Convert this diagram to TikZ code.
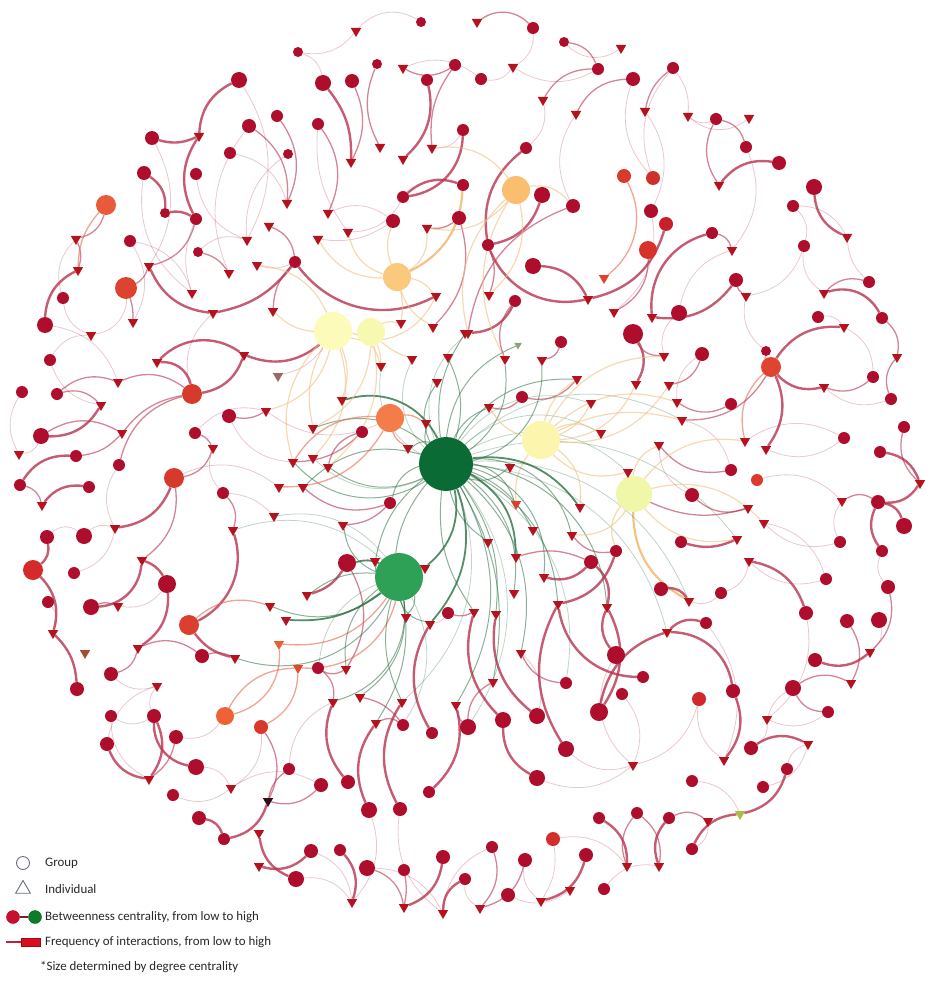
\documentclass[tikz,border=0pt]{standalone}
\usepackage{fontspec}
\setmainfont{Carlito}
\usetikzlibrary{shapes.geometric}
\definecolor{cred}{HTML}{AE0E2C}
\definecolor{tred}{HTML}{B3121E}
\definecolor{ered}{HTML}{B8334F}
\definecolor{hubg}{HTML}{0B6B35}
\definecolor{midg}{HTML}{2FA157}
\definecolor{egreen}{HTML}{2A7040}
\definecolor{eorange}{HTML}{E8674A}
\definecolor{eyel}{HTML}{F0C080}
\definecolor{legc}{HTML}{6A6F80}
\definecolor{cr1}{HTML}{D93A2E}\definecolor{cr2}{HTML}{D0302C}\definecolor{cr3}{HTML}{C8202A}
\definecolor{cr4}{HTML}{D8302B}\definecolor{cr5}{HTML}{DC4430}\definecolor{cr6}{HTML}{D63A2C}
\definecolor{cr8}{HTML}{DA4030}\definecolor{cr9}{HTML}{DE4430}\definecolor{cr10}{HTML}{DC3A2C}
\definecolor{cr11}{HTML}{D0282C}\definecolor{cr12}{HTML}{D42E2C}\definecolor{cr13}{HTML}{D42A2A}
\definecolor{cr14}{HTML}{D8382C}
\definecolor{co1}{HTML}{E85A3A}\definecolor{co2}{HTML}{F47C48}\definecolor{co3}{HTML}{EE6236}
\definecolor{cy1}{HTML}{FBC97E}\definecolor{cy2}{HTML}{FBBE6F}\definecolor{cy3}{HTML}{FCFBB9}
\definecolor{cy4}{HTML}{F7F9B0}\definecolor{cy5}{HTML}{FBF5AE}\definecolor{cy6}{HTML}{F1F7A8}
\definecolor{tdark}{HTML}{6B2A2A}\definecolor{torg}{HTML}{E0452C}\definecolor{tgrey}{HTML}{8FA07A}
\definecolor{tbrown}{HTML}{A0502E}\definecolor{torg2}{HTML}{E8602E}\definecolor{torg3}{HTML}{E04A2C}
\definecolor{tblack}{HTML}{301018}\definecolor{torg4}{HTML}{D9402A}\definecolor{tlime}{HTML}{A8C040}
\definecolor{lred}{HTML}{C8102E}\definecolor{lredd}{HTML}{9A0A20}\definecolor{lgreen}{HTML}{0E7A2A}
\definecolor{lgreend}{HTML}{0A5A20}\definecolor{ldash}{HTML}{7A2030}\definecolor{lrect}{HTML}{D8101E}
\definecolor{lrectd}{HTML}{A00A18}\definecolor{lline}{HTML}{C02040}
\pgfdeclarelayer{bg}\pgfsetlayers{bg,main}
\newcommand{\grp}[4]{\node[cir,minimum size=#4] (#1) at (#2,#3) {};}
\newcommand{\ind}[3]{\node[tri] (#1) at (#2,#3) {};}
\newcommand{\edg}[4]{\draw[#1] (#2) to[bend left=#4] (#3);}
\begin{document}
\begin{tikzpicture}[x=1pt,y=-1pt,
  cir/.style={circle,inner sep=0pt,fill=cred},
  tri/.style={regular polygon,regular polygon sides=3,shape border rotate=180,inner sep=0pt,minimum size=12,fill=tred},
  et/.style={draw=ered,draw opacity=0.28,line width=0.8},
  em/.style={draw=ered,draw opacity=0.6,line width=1.3},
  ek/.style={draw=ered,draw opacity=0.8,line width=2.4},
  eg/.style={draw=egreen,draw opacity=0.55,line width=1},
  egt/.style={draw=egreen,draw opacity=0.3,line width=0.8},
  egk/.style={draw=egreen,draw opacity=0.8,line width=1.8},
  eo/.style={draw=eorange,draw opacity=0.6,line width=1.3},
  ey/.style={draw=eyel,draw opacity=0.6,line width=1.2},
  eyk/.style={draw=eyel!80!orange,draw opacity=0.8,line width=2.2},
  lgt/.style={anchor=west,font=\fontsize{12.9}{15}\selectfont,inner sep=0pt,text=black!85}]
\useasboundingbox (0,0) rectangle (935,984);
% ---------- group nodes (circles)
\grp{a1}{421}{22}{10}\grp{a2}{298}{52}{10}\grp{a3}{533}{28}{12}\grp{a4}{564}{42}{10}
\grp{a5}{239}{80}{16}\grp{a6}{323}{83}{16}\grp{a7}{352}{81}{14}\grp{a8}{377}{64}{10}
\grp{a9}{427}{80}{12}\grp{a10}{455}{65}{12}\grp{a11}{481}{79}{12}\grp{a12}{598}{69}{12}
\grp{a13}{633}{79}{14}\grp{a14}{673}{68}{12}\grp{a15}{152}{138}{14}\grp{a16}{249}{126}{14}
\grp{a17}{277}{116}{12}\grp{a18}{318}{124}{12}\grp{a19}{463}{130}{12}\grp{a20}{144}{173}{14}
\grp{a21}{196}{174}{12}\grp{a22}{230}{153}{12}\grp{a23}{288}{154}{10}\grp{a24}{463}{185}{12}
\grp{a25}{403}{197}{12}\grp{a26}{165}{213}{10}\grp{a27}{196}{219}{12}\grp{a28}{393}{221}{14}
\grp{a29}{459}{218}{14}\grp{a30}{130}{241}{12}\grp{a31}{198}{252}{10}\grp{a32}{295}{262}{12}
\grp{a33}{63}{298}{12}\grp{a34}{45}{325}{16}\grp{a35}{50}{360}{12}\grp{a36}{22}{392}{12}
\grp{a37}{57}{394}{12}\grp{a38}{229}{416}{14}\grp{a39}{41}{436}{16}\grp{a40}{195}{433}{12}
\grp{a41}{362}{432}{12}\grp{a42}{76}{456}{12}\grp{a43}{119}{465}{12}\grp{a44}{20}{485}{12}
\grp{a45}{89}{487}{12}
\grp{b1}{716}{119}{12}\grp{b2}{746}{147}{12}\grp{b3}{779}{163}{14}\grp{b4}{526}{148}{12}
\grp{b5}{542}{195}{16}\grp{b6}{814}{187}{16}\grp{b7}{793}{206}{12}\grp{b8}{573}{206}{14}
\grp{b9}{651}{211}{14}\grp{b10}{712}{233}{12}\grp{b11}{488}{245}{12}\grp{b12}{804}{246}{12}
\grp{b13}{533}{266}{16}\grp{b14}{736}{280}{14}\grp{b15}{869}{282}{12}\grp{b16}{515}{301}{12}
\grp{b17}{679}{313}{16}\grp{b18}{818}{317}{12}\grp{b19}{882}{318}{12}\grp{b20}{633}{334}{20}
\grp{b21}{561}{342}{12}\grp{b22}{702}{354}{14}\grp{b23}{766}{351}{10}\grp{b24}{873}{377}{12}
\grp{b25}{891}{399}{12}\grp{b26}{522}{397}{12}\grp{b27}{731}{404}{12}\grp{b28}{904}{427}{12}
\grp{b29}{844}{438}{12}\grp{b30}{880}{452}{12}\grp{b31}{731}{470}{12}
\grp{d1}{223}{493}{12}\grp{d2}{47}{537}{14}\grp{d3}{84}{536}{16}\grp{d4}{74}{573}{12}
\grp{d5}{167}{584}{18}\grp{d6}{48}{602}{12}\grp{d7}{91}{607}{16}\grp{d8}{202}{656}{14}
\grp{d9}{111}{674}{14}\grp{d10}{77}{689}{14}\grp{d11}{111}{716}{12}\grp{d12}{154}{716}{14}
\grp{d13}{107}{744}{14}\grp{d14}{176}{737}{14}\grp{d15}{196}{767}{16}\grp{d16}{173}{795}{12}
\grp{d17}{289}{769}{12}\grp{d18}{321}{785}{14}\grp{d19}{348}{782}{14}\grp{d20}{369}{810}{16}
\grp{d21}{400}{809}{14}\grp{d22}{429}{792}{12}\grp{d23}{403}{725}{12}\grp{d24}{432}{733}{12}
\grp{d25}{468}{727}{16}\grp{d26}{318}{668}{12}\grp{d27}{347}{563}{18}\grp{d28}{390}{503}{12}
\grp{d29}{448}{613}{12}\grp{d30}{199}{818}{14}\grp{d31}{224}{839}{12}\grp{d32}{311}{851}{14}
\grp{d33}{340}{850}{12}\grp{d34}{367}{868}{16}\grp{d35}{404}{870}{12}\grp{d36}{443}{857}{14}
\grp{d37}{296}{879}{16}\grp{d38}{465}{879}{12}
\grp{e1}{692}{495}{14}\grp{e2}{878}{502}{14}\grp{e3}{904}{526}{16}\grp{e4}{840}{542}{12}
\grp{e5}{882}{551}{12}\grp{e6}{681}{542}{12}\grp{e7}{616}{551}{12}\grp{e8}{591}{562}{14}
\grp{e9}{661}{589}{14}\grp{e10}{721}{593}{12}\grp{e11}{826}{579}{12}\grp{e12}{806}{613}{14}
\grp{e13}{888}{587}{14}\grp{e14}{706}{623}{12}\grp{e15}{847}{621}{14}\grp{e16}{879}{620}{16}
\grp{e17}{815}{660}{14}\grp{e18}{616}{655}{18}\grp{e19}{643}{677}{12}\grp{e20}{622}{694}{12}
\grp{e21}{566}{683}{12}\grp{e22}{733}{691}{14}\grp{e23}{793}{688}{16}\grp{e24}{828}{712}{12}
\grp{e26}{503}{720}{16}\grp{e27}{537}{716}{16}\grp{e28}{599}{712}{18}
\grp{e29}{566}{749}{16}\grp{e30}{537}{778}{16}\grp{e31}{751}{748}{14}\grp{e32}{787}{769}{12}
\grp{e33}{763}{787}{12}\grp{e34}{692}{781}{12}\grp{e35}{599}{818}{12}\grp{e36}{637}{813}{12}
\grp{e37}{669}{818}{12}\grp{e38}{692}{849}{12}\grp{e39}{492}{847}{12}\grp{e40}{525}{860}{14}
\grp{e41}{586}{855}{14}\grp{e43}{508}{895}{14}\grp{e44}{604}{889}{12}
% coloured groups
\node[cir,fill=cr1,minimum size=14] (r1) at (624,176) {};
\node[cir,fill=cr2,minimum size=14] (r2) at (653,178) {};
\node[cir,fill=cr3,minimum size=14] (r3) at (666,224) {};
\node[cir,fill=cr4,minimum size=18] (r4) at (648,250) {};
\node[cir,fill=cr5,minimum size=22] (r5) at (126,288) {};
\node[cir,fill=cr6,minimum size=20] (r6) at (192,394) {};
\node[cir,fill=cr6,minimum size=20] (r7) at (174,478) {};
\node[cir,fill=cr8,minimum size=20] (r8) at (189,625) {};
\node[cir,fill=cr9,minimum size=20] (r9) at (771,367) {};
\node[cir,fill=cr10,minimum size=12] (r10) at (757,480) {};
\node[cir,fill=cr11,minimum size=14] (r11) at (699,699) {};
\node[cir,fill=cr12,minimum size=14] (r12) at (553,839) {};
\node[cir,fill=cr13,minimum size=20] (r13) at (33,570) {};
\node[cir,fill=cr14,minimum size=14] (r14) at (261,727) {};
\node[cir,fill=co1,minimum size=20] (o1) at (106,205) {};
\node[cir,fill=co2,minimum size=28] (o2) at (390,418) {};
\node[cir,fill=co3,minimum size=18] (o3) at (225,716) {};
\node[cir,fill=cy1,minimum size=28] (y1) at (397,277) {};
\node[cir,fill=cy2,minimum size=28] (y2) at (516,190) {};
\node[cir,fill=cy3,minimum size=38] (y3) at (333,331) {};
\node[cir,fill=cy4,minimum size=28] (y4) at (371,332) {};
\node[cir,fill=cy5,minimum size=38] (y5) at (541,440) {};
\node[cir,fill=cy6,minimum size=36] (y6) at (634,494) {};
\node[cir,fill=hubg,minimum size=54] (g1) at (446,464) {};
\node[cir,fill=midg,minimum size=48] (g2) at (399,577) {};
% ---------- individuals (triangles)
\ind{t1}{356}{31}\ind{t2}{403}{68}\ind{t3}{199}{136}\ind{t4}{380}{147}\ind{t5}{403}{159}
\ind{t6}{432}{148}\ind{t7}{351}{162}\ind{t8}{287}{203}\ind{t9}{328}{213}\ind{t10}{348}{232}
\ind{t11}{427}{228}\ind{t12}{76}{239}\ind{t13}{247}{240}\ind{t14}{269}{226}\ind{t15}{318}{239}
\ind{t16}{78}{270}\ind{t17}{149}{266}\ind{t18}{229}{273}\ind{t19}{257}{265}\ind{t20}{192}{293}
\ind{t21}{436}{296}\ind{t22}{133}{322}\ind{t23}{213}{313}\ind{t24}{273}{311}\ind{t25}{401}{323}
\ind{t26}{433}{327}\ind{t27}{465}{333}\ind{t28}{91}{335}\ind{t29}{244}{355}\ind{t30}{157}{362}
\ind{t31}{381}{366}\ind{t32}{412}{359}\ind{t33}{448}{357}\ind{t34}{118}{382}\ind{t35}{101}{405}
\ind{t36}{437}{382}\node[tri,fill=tdark,fill opacity=0.7] (t37) at (278,376) {};
\ind{t38}{342}{400}\ind{t39}{266}{411}\ind{t40}{122}{433}\ind{t41}{313}{428}\ind{t42}{426}{423}
\ind{t43}{213}{448}\ind{t44}{408}{448}\ind{t45}{19}{454}\ind{t46}{293}{462}\ind{t47}{313}{458}
\ind{t48}{328}{467}\ind{t49}{279}{487}\ind{t50}{303}{487}
\ind{u1}{477}{22}\ind{u2}{621}{48}\ind{u3}{513}{67}\ind{u4}{543}{100}\ind{u5}{576}{114}
\ind{u6}{645}{111}\ind{u7}{688}{116}\ind{u8}{749}{118}\ind{u9}{719}{185}\ind{u10}{847}{237}
\ind{u11}{732}{250}\node[tri,fill=torg] (u12) at (604,278) {};
\ind{u13}{489}{295}\ind{u14}{588}{299}\ind{u15}{746}{296}\ind{u16}{824}{293}\ind{u17}{614}{312}
\ind{u18}{652}{317}\ind{u19}{844}{327}\ind{u20}{468}{333}
\node[tri,fill=tgrey,minimum size=9] (u21) at (518,345) {};
\ind{u22}{505}{359}\ind{u23}{542}{360}\ind{u24}{664}{356}\ind{u25}{897}{357}\ind{u26}{577}{379}
\ind{u27}{636}{384}\ind{u28}{669}{385}\ind{u29}{824}{387}\ind{u30}{489}{407}\ind{u31}{591}{403}
\ind{u32}{677}{402}\ind{u33}{682}{420}\ind{u34}{745}{441}\ind{u35}{766}{449}\ind{u36}{601}{433}
\ind{u37}{659}{445}\ind{u38}{510}{467}\ind{u39}{628}{472}\ind{u40}{920}{483}
\ind{v1}{42}{505}\ind{v2}{115}{528}\ind{v3}{142}{560}\ind{v4}{233}{530}\ind{v5}{274}{516}
\ind{v6}{343}{525}\ind{v7}{375}{561}\ind{v8}{425}{568}\ind{v9}{118}{606}\ind{v10}{53}{633}
\node[tri,fill=tbrown] (v11) at (85,653) {};
\ind{v12}{138}{648}\ind{v13}{235}{658}\ind{v14}{270}{606}\ind{v15}{286}{620}
\node[tri,fill=torg2] (v16) at (279,644) {};
\ind{v17}{307}{595}\node[tri,fill=torg3] (v18) at (298,668) {};
\ind{v19}{346}{669}\ind{v20}{157}{686}\ind{v21}{333}{702}\ind{v22}{360}{697}\ind{v23}{376}{723}
\ind{v24}{402}{702}\ind{v25}{406}{617}\ind{v26}{430}{624}\ind{v27}{456}{705}\ind{v28}{149}{779}
\ind{v29}{231}{788}\node[tri,fill=tblack] (v30) at (268,801) {};
\ind{v31}{259}{833}\ind{v32}{259}{866}\ind{v33}{352}{902}\ind{v34}{404}{907}\ind{v35}{443}{913}
\node[tri,fill=torg4] (w1) at (516,504) {};
\ind{w2}{580}{507}\ind{w3}{533}{530}\ind{w4}{572}{535}\ind{w5}{488}{542}\ind{w6}{516}{557}
\ind{w7}{544}{577}\ind{w8}{514}{593}\ind{w9}{558}{604}\ind{w10}{607}{607}\ind{w11}{474}{612}
\ind{w12}{496}{614}\ind{w13}{748}{508}\ind{w14}{764}{523}\ind{w15}{737}{539}\ind{w16}{842}{501}
\ind{w17}{749}{561}\ind{w18}{689}{601}\ind{w19}{667}{632}\ind{w20}{521}{653}\ind{w21}{493}{682}
\ind{w22}{870}{652}\ind{w23}{851}{683}\ind{w24}{767}{719}\ind{w25}{724}{760}\ind{w26}{633}{765}
\ind{w27}{808}{744}\node[tri,fill=tlime] (w28) at (740,814) {};
\ind{w29}{708}{821}\ind{w30}{627}{866}\ind{w31}{659}{866}\ind{w32}{570}{890}\ind{w33}{541}{901}
\ind{w34}{480}{908}
% ---------- connectors
\begin{pgfonlayer}{bg}
% top
\edg{et}{a1}{t1}{-40}\edg{et}{a2}{t1}{-30}\edg{em}{a3}{u1}{-40}\edg{et}{a4}{u2}{-40}
\edg{et}{a11}{u3}{-30}\edg{em}{a12}{u4}{-30}\edg{em}{a13}{u5}{-30}\edg{em}{a14}{u6}{-20}
\edg{et}{a14}{u7}{20}\edg{et}{b1}{u7}{30}\edg{et}{u7}{u8}{-40}\edg{em}{b1}{u9}{-30}
\edg{ek}{b3}{u9}{-30}\edg{em}{b2}{b1}{-30}\edg{ek}{b6}{u10}{-30}\edg{et}{b7}{u10}{30}
\edg{et}{u10}{b15}{-20}\edg{em}{b15}{u16}{-30}\edg{ek}{u16}{b19}{40}\edg{et}{b7}{b12}{30}
\edg{ek}{b10}{u18}{-40}\edg{ek}{b14}{u18}{30}\edg{em}{b10}{u11}{30}\edg{et}{b12}{u15}{30}
\edg{em}{b14}{u15}{-20}\edg{et}{b18}{u19}{30}\edg{em}{b19}{u25}{30}\edg{em}{b24}{u29}{30}
\edg{ek}{r9}{u29}{-30}\edg{ek}{r9}{u35}{30}\edg{eo}{r9}{u34}{-30}\edg{em}{r9}{u33}{30}
\edg{eo}{r9}{b23}{20}\edg{ek}{r9}{u19}{30}\edg{em}{b25}{u25}{30}\edg{ek}{b30}{u40}{30}
\edg{em}{b28}{u40}{-30}\edg{et}{b29}{u34}{-30}\edg{em}{b27}{u32}{30}\edg{em}{b31}{u37}{30}
\edg{em}{b22}{u28}{30}\edg{ek}{b20}{u27}{30}\edg{em}{b20}{u24}{-30}\edg{em}{b21}{u23}{30}
\edg{em}{b26}{u30}{30}\edg{em}{b26}{u26}{-30}\edg{ek}{b16}{u20}{30}\edg{em}{b16}{u22}{-30}
\edg{ek}{b13}{u14}{30}\edg{em}{b11}{u13}{20}\edg{eo}{r1}{u12}{40}\edg{et}{r2}{a14}{30}
\edg{em}{r4}{u17}{30}\edg{ek}{r3}{u14}{30}\edg{ek}{b5}{b11}{30}\edg{ek}{b4}{b11}{-30}
\edg{ek}{b11}{u14}{-40}\edg{em}{b8}{u20}{-30}\edg{et}{b9}{u17}{30}\edg{et}{b17}{u24}{-30}
\edg{et}{a3}{u3}{30}\edg{et}{a13}{r2}{-30}
% upper left
\edg{em}{a8}{t4}{-25}\edg{em}{a10}{t2}{30}\edg{ek}{a9}{t5}{30}\edg{em}{a10}{t6}{-20}
\edg{ek}{a6}{t7}{20}\edg{em}{a7}{t7}{25}\edg{em}{a17}{t8}{30}\edg{em}{a16}{t8}{30}
\edg{em}{a18}{t9}{30}\edg{et}{a18}{t10}{-20}\edg{ek}{a19}{a25}{40}\edg{ek}{a24}{a25}{-30}
\edg{em}{a29}{t11}{20}\edg{em}{o1}{t12}{30}\edg{ek}{a34}{t16}{30}\edg{em}{t12}{t16}{20}
\edg{et}{a31}{t13}{30}\edg{em}{a32}{t14}{-30}\edg{et}{a28}{t15}{20}\edg{em}{r5}{t17}{-20}
\edg{em}{a27}{t17}{30}\edg{ek}{a5}{t3}{-30}\edg{ek}{a15}{t3}{-20}\edg{ek}{t3}{a27}{-30}
\edg{ek}{a20}{a26}{30}\edg{ek}{a26}{a27}{20}\edg{em}{a31}{t18}{20}\edg{et}{a32}{t19}{20}
\edg{et}{a30}{t20}{30}\edg{em}{r5}{t22}{10}\edg{ek}{a32}{t23}{20}\edg{ek}{t17}{t23}{-30}
\edg{em}{a32}{t24}{-20}\edg{em}{a29}{t26}{30}\edg{et}{r5}{t28}{40}\edg{ek}{y3}{t29}{30}
\edg{ek}{r6}{t29}{-30}\edg{ek}{t30}{r6}{40}\edg{em}{a37}{t34}{30}\edg{em}{r6}{t34}{-30}
\edg{em}{a37}{t35}{30}\edg{ek}{a39}{t35}{-30}\edg{em}{a38}{t39}{-20}\edg{em}{a39}{t40}{30}
\edg{em}{r6}{t40}{-20}\edg{em}{a40}{t43}{20}\edg{em}{r7}{t43}{-30}\edg{et}{a39}{t45}{30}
\edg{em}{a41}{t46}{20}\edg{ek}{a32}{t21}{-40}\edg{ek}{t30}{t29}{40}\edg{em}{a43}{r6}{30}
\edg{em}{a42}{t40}{-20}\edg{ek}{a44}{a42}{30}\edg{et}{a23}{t13}{-30}\edg{et}{a21}{t13}{-30}
\edg{et}{a22}{t8}{30}\edg{et}{a35}{t28}{30}\edg{et}{a36}{t45}{-30}\edg{et}{a33}{t12}{30}
\edg{em}{a4}{a12}{30}\edg{et}{a2}{a6}{30}
% bottom left
\edg{em}{a44}{v1}{30}\edg{ek}{a45}{v1}{-30}\edg{ek}{r7}{v2}{30}\edg{et}{d3}{v2}{30}
\edg{em}{r7}{v3}{30}\edg{ek}{d5}{v3}{-20}\edg{em}{d1}{v4}{30}\edg{ek}{r8}{v4}{-40}
\edg{et}{d1}{v5}{20}\edg{em}{d7}{v9}{20}\edg{et}{d5}{v9}{30}\edg{ek}{r13}{v10}{30}
\edg{ek}{d10}{v10}{-20}\edg{ek}{d5}{v12}{30}\edg{em}{d8}{v12}{-30}\edg{ek}{r8}{v13}{-20}
\edg{em}{d8}{v13}{20}\edg{eo}{r8}{v14}{30}\edg{ek}{d27}{v17}{20}\edg{eo}{r14}{v18}{-30}
\edg{eo}{o3}{v18}{30}\edg{em}{d27}{v19}{30}\edg{et}{d12}{v20}{30}\edg{em}{d26}{v21}{30}
\edg{em}{d23}{v23}{-30}\edg{et}{d29}{v26}{20}\edg{ek}{d12}{v28}{30}\edg{ek}{d13}{v28}{-30}
\edg{em}{d14}{v28}{20}\edg{et}{r14}{v29}{30}\edg{em}{r14}{v30}{30}\edg{em}{d17}{v30}{-20}
\edg{ek}{v30}{d31}{30}\edg{ek}{d30}{d31}{30}\edg{ek}{v31}{d37}{-30}\edg{ek}{d32}{v32}{30}
\edg{et}{d32}{v33}{30}\edg{et}{d37}{v33}{30}\edg{ek}{d33}{v33}{30}\edg{em}{d34}{v34}{30}
\edg{ek}{d36}{v34}{30}\edg{ek}{d38}{v35}{-30}\edg{em}{d35}{v34}{10}\edg{ek}{d12}{d15}{-40}
\edg{et}{d16}{v29}{-30}\edg{et}{d11}{d12}{-30}\edg{et}{d2}{d3}{40}\edg{et}{d4}{v2}{-30}
\edg{em}{d9}{v12}{-30}\edg{em}{v30}{d18}{-30}\edg{ek}{d19}{v21}{30}\edg{ek}{d20}{v23}{30}
\edg{ek}{d21}{v24}{30}\edg{ek}{d22}{v27}{-30}\edg{ek}{d24}{v26}{30}\edg{em}{d23}{v22}{-20}
\edg{em}{d25}{v27}{20}\edg{em}{d26}{v19}{-30}\edg{em}{d28}{v6}{20}\edg{em}{d29}{w11}{-20}
\edg{ek}{d7}{v3}{-40}\edg{et}{d6}{v10}{30}\edg{eo}{o3}{v16}{-40}\edg{et}{o3}{d14}{30}
\edg{ek}{r13}{d2}{-30}\edg{et}{d15}{v29}{30}
% bottom right
\edg{ey}{y5}{w1}{-20}\edg{em}{e7}{w4}{30}\edg{em}{e8}{w6}{-20}\edg{ek}{e8}{w7}{30}
\edg{ek}{e7}{w9}{30}\edg{ek}{e8}{w10}{30}\edg{em}{y6}{w13}{-20}\edg{et}{e4}{w14}{30}
\edg{ek}{e6}{w15}{-20}\edg{em}{e2}{w16}{-30}\edg{et}{r10}{w16}{30}\edg{et}{e11}{w17}{30}
\edg{ek}{e12}{w17}{-30}\edg{eyk}{y6}{w18}{-30}\edg{ek}{e9}{w18}{30}\edg{ek}{e14}{w19}{-30}
\edg{ek}{w19}{e22}{40}\edg{ek}{w19}{e28}{-30}\edg{em}{e21}{w20}{30}\edg{em}{d25}{w21}{30}
\edg{ek}{e17}{w22}{-30}\edg{em}{e15}{w23}{30}\edg{et}{e16}{w22}{30}\edg{em}{e23}{w23}{30}
\edg{et}{e24}{w24}{30}\edg{et}{e23}{w24}{-20}\edg{ek}{e22}{w25}{30}\edg{et}{r11}{w26}{30}
\edg{ek}{e31}{w27}{30}\edg{et}{e32}{w27}{30}\edg{ek}{e32}{w28}{30}\edg{et}{e34}{w28}{30}
\edg{ek}{e38}{w28}{30}\edg{em}{e37}{w29}{30}\edg{ek}{e35}{w30}{30}\edg{em}{e36}{w30}{-30}
\edg{em}{e36}{w31}{30}\edg{ek}{e37}{w31}{-30}\edg{et}{e44}{w31}{30}\edg{ek}{e41}{w33}{30}
\edg{et}{e43}{w32}{-30}\edg{em}{e40}{w34}{30}\edg{em}{e39}{w34}{30}\edg{et}{r12}{w33}{20}
\edg{ek}{e29}{w9}{30}\edg{ek}{e28}{w10}{-30}\edg{ek}{e18}{w10}{30}\edg{ek}{e19}{w9}{40}
\edg{ek}{e26}{w11}{30}\edg{ek}{e27}{w12}{30}\edg{ek}{e26}{e30}{-30}\edg{et}{e30}{w26}{-30}
\edg{em}{e1}{w13}{-30}\edg{ek}{e2}{e3}{30}\edg{ek}{e2}{e5}{-30}\edg{ek}{u40}{e2}{30}
\edg{et}{e4}{w16}{30}\edg{em}{e13}{w22}{30}\edg{et}{e10}{w18}{30}\edg{et}{d38}{w34}{-30}
\edg{et}{e33}{w27}{-30}\edg{et}{e20}{w26}{30}\edg{em}{e24}{e23}{30}
% extra faint links
\edg{et}{a5}{t13}{30}\edg{et}{a16}{t18}{-30}\edg{et}{a15}{t17}{30}\edg{et}{a20}{t20}{-30}
\edg{et}{a30}{t22}{30}\edg{et}{a33}{t28}{-30}\edg{et}{a34}{t34}{30}\edg{et}{a35}{t35}{-30}
\edg{et}{a40}{t39}{30}\edg{et}{a38}{t46}{-30}\edg{et}{r7}{t49}{30}\edg{et}{a43}{v2}{-30}
\edg{et}{d1}{t43}{30}\edg{et}{r6}{t23}{30}\edg{et}{a27}{t20}{-20}\edg{et}{a25}{t10}{30}
\edg{et}{a28}{t9}{-30}\edg{et}{a19}{t6}{30}\edg{et}{a11}{t2}{-30}\edg{et}{a12}{u3}{30}
\edg{et}{b4}{u4}{-30}\edg{et}{b8}{u5}{30}\edg{et}{b9}{u6}{-30}\edg{et}{b2}{u11}{30}
\edg{et}{b12}{u16}{-30}\edg{et}{b17}{u11}{30}\edg{et}{b22}{u32}{-30}\edg{et}{b23}{u15}{30}
\edg{et}{b24}{u19}{-30}\edg{et}{b25}{u29}{30}\edg{et}{b29}{u35}{30}\edg{et}{b31}{u33}{-30}
\edg{et}{e1}{u37}{30}\edg{et}{e11}{w14}{-30}\edg{et}{e13}{e5}{30}\edg{et}{e18}{w26}{-40}
\edg{et}{e27}{w20}{-30}\edg{et}{e29}{w26}{-30}\edg{et}{d18}{v29}{-30}\edg{et}{d17}{v21}{30}
\edg{et}{d9}{v20}{-30}\edg{et}{d13}{v20}{30}\edg{et}{d11}{v28}{-30}\edg{et}{d20}{v33}{30}
\edg{et}{d21}{v35}{-30}\edg{et}{d34}{v35}{30}\edg{et}{e39}{v35}{-30}\edg{et}{e40}{w33}{-30}
\edg{et}{r12}{w30}{30}\edg{et}{e38}{w29}{-30}\edg{et}{r11}{w25}{-30}\edg{et}{e31}{w24}{-30}
\edg{et}{e12}{w24}{30}\edg{et}{e10}{w17}{-30}\edg{et}{e14}{w25}{30}
\edg{em}{d28}{t50}{30}\edg{em}{a41}{t48}{-30}
% hubs
\edg{eg}{g1}{t27}{20}\edg{eg}{g1}{t33}{-20}\edg{eg}{g1}{t36}{30}\edg{eg}{g1}{t42}{20}
\edg{eg}{g1}{t44}{-30}\edg{eg}{g1}{t48}{30}\edg{eg}{g1}{t50}{-30}\edg{eg}{g1}{u21}{30}
\edg{eg}{g1}{u38}{-30}\edg{eg}{g1}{w10}{40}\edg{eg}{g1}{w9}{30}\edg{eg}{g1}{v25}{-30}
\edg{eg}{g1}{u30}{20}\edg{eg}{g1}{u26}{30}\edg{eg}{g1}{t46}{40}\edg{eg}{g1}{w20}{30}
\edg{eg}{g1}{w21}{20}\edg{eg}{g1}{w11}{-20}\edg{eg}{g1}{w1}{30}\edg{egk}{g1}{w2}{30}
\edg{eg}{g1}{w3}{20}\edg{eg}{g1}{w5}{-20}\edg{egk}{g1}{w6}{30}\edg{eg}{g1}{w7}{40}
\edg{eg}{g1}{w8}{30}\edg{eg}{g1}{w12}{20}\edg{eg}{g1}{v7}{-20}\edg{egk}{g1}{v8}{30}
\edg{eg}{g1}{v27}{30}\edg{egk}{g1}{t38}{-40}\edg{eg}{g1}{u23}{-40}\edg{eg}{g1}{w4}{40}
\edg{egk}{g1}{v26}{30}\edg{eg}{g1}{d28}{-30}\edg{eg}{g1}{t41}{-30}\edg{eg}{g1}{u22}{-30}
\edg{egt}{g1}{u31}{35}\edg{egt}{g1}{u36}{35}\edg{egt}{g1}{u33}{35}\edg{egt}{g1}{w15}{35}
\edg{egt}{g1}{w18}{35}\edg{egt}{g1}{w19}{35}\edg{egt}{g1}{d25}{35}\edg{egt}{g1}{t47}{35}
\edg{egt}{g1}{t32}{35}\edg{egt}{g1}{t31}{35}\edg{egt}{g1}{u20}{35}\edg{egt}{g1}{e21}{35}
\edg{egt}{g1}{u39}{35}\edg{egt}{g1}{v24}{35}
\edg{eg}{g2}{v6}{30}\edg{eg}{g2}{v7}{20}\edg{eg}{g2}{v14}{30}\edg{egk}{g2}{v15}{20}
\edg{eo}{g2}{v16}{30}\edg{eg}{g2}{v17}{-20}\edg{eo}{g2}{v18}{40}\edg{eg}{g2}{v19}{-30}
\edg{eg}{g2}{v22}{30}\edg{eg}{g2}{v23}{20}\edg{eg}{g2}{v24}{-20}\edg{eg}{g2}{v25}{30}
\edg{eg}{g2}{v26}{-30}\edg{egk}{g2}{d27}{-20}\edg{eg}{g2}{v13}{40}\edg{eg}{g2}{v21}{40}
\edg{egt}{g2}{v4}{-30}\edg{egt}{g2}{v5}{-30}\edg{egt}{g2}{d26}{-30}\edg{egt}{g2}{d23}{30}
% yellow / orange hubs
\edg{ey}{y1}{t21}{20}\edg{ey}{y1}{t25}{10}\edg{ey}{y1}{t26}{-20}\edg{ey}{y1}{t15}{30}
\edg{ey}{y1}{t11}{-30}\edg{ey}{y1}{a28}{20}\edg{eyk}{y1}{a24}{-30}\edg{ey}{y1}{t10}{30}
\edg{ey}{y2}{u13}{30}\edg{ey}{y2}{t11}{30}\edg{ey}{y2}{u20}{-30}\edg{ey}{y2}{t6}{-30}
\edg{ey}{y2}{b8}{30}\edg{ey}{y2}{u22}{-30}
\edg{ey}{y3}{t24}{20}\edg{ey}{y3}{t31}{30}\edg{ey}{y3}{t21}{-40}\edg{ey}{y3}{t41}{-20}
\edg{et}{y3}{t37}{20}\edg{ey}{y3}{t38}{20}\edg{ey}{y3}{t47}{30}\edg{ey}{y3}{t19}{-30}
\edg{ey}{y3}{t39}{30}\edg{ey}{y3}{t46}{-30}
\edg{ey}{y4}{t31}{10}\edg{ey}{y4}{t32}{-10}\edg{ey}{y4}{t25}{20}\edg{ey}{y4}{t48}{30}
\edg{ey}{y4}{t41}{30}
\edg{ey}{y5}{u26}{20}\edg{ey}{y5}{u31}{-20}\edg{ey}{y5}{u36}{30}\edg{ey}{y5}{u39}{-30}
\edg{ey}{y5}{u30}{20}\edg{ey}{y5}{w2}{30}\edg{ey}{y5}{u27}{-30}\edg{ey}{y5}{u24}{30}
\edg{ey}{y5}{u28}{-30}\edg{ey}{y5}{u32}{30}\edg{ey}{y5}{u33}{20}
\edg{ey}{y6}{u39}{20}\edg{ey}{y6}{w4}{30}\edg{ey}{y6}{e7}{-30}\edg{ey}{y6}{u37}{30}
\edg{ey}{y6}{w14}{30}\edg{ey}{y6}{w15}{-30}\edg{ey}{y6}{u34}{30}
\edg{eo}{o2}{t42}{20}\edg{eo}{o2}{t44}{-20}\edg{eo}{o2}{t49}{30}\edg{et}{o2}{t39}{30}
\edg{eo}{o2}{t46}{-30}\edg{eo}{o1}{t16}{-20}
\end{pgfonlayer}
% ---------- legend
\node[circle,draw=legc,line width=0.9,minimum size=13,inner sep=0pt] (lg1) at (23,863) {};
\node[lgt] (lt1) at (45,863) {Group};
\node[regular polygon,regular polygon sides=3,draw=legc,line width=0.9,minimum size=17,inner sep=0pt] (lg2) at (23,889) {};
\node[lgt] (lt2) at (45,889) {Individual};
\node[circle,fill=lred,draw=lredd,minimum size=13,inner sep=0pt] (lr) at (13,917) {};
\node[circle,fill=lgreen,draw=lgreend,minimum size=13,inner sep=0pt] (lgr) at (35,917) {};
\draw[line width=1.2,ldash] (lr) -- (lgr);
\node[lgt] (lt3) at (45,917) {Betweenness centrality, from low to high};
\node[rectangle,fill=lrect,draw=lrectd,minimum width=19,minimum height=8,inner sep=0pt] (frect) at (30.5,942) {};
\coordinate (fl) at (6,942);
\draw[line width=1.4,lline] (fl) -- (frect);
\node[lgt] (lt4) at (45,942) {Frequency of interactions, from low to high};
\node[lgt] (lt5) at (40,967) {*Size determined by degree centrality};
\end{tikzpicture}
\end{document}
